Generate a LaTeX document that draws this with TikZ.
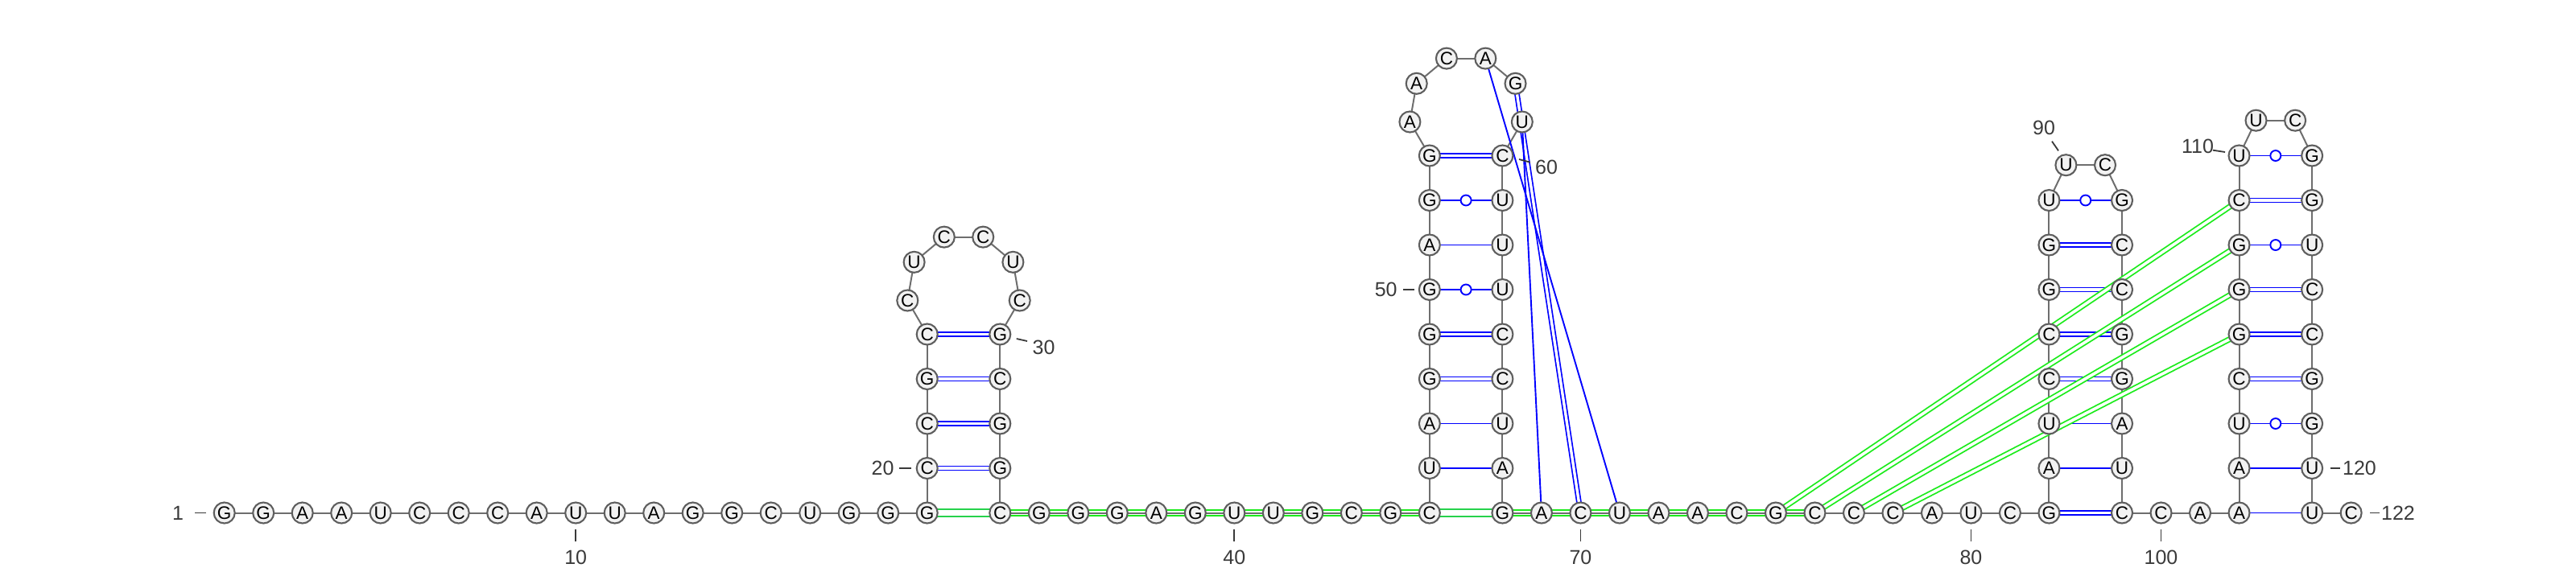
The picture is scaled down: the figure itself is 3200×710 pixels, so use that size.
\documentclass[tikz,border=0pt]{standalone}
\usepackage{fontspec}
\setmainfont{Liberation Sans}
\usetikzlibrary{calc}
\pgfdeclarelayer{bg}
\pgfsetlayers{bg,main}
\definecolor{bbgray}{HTML}{6E6E6E}
\definecolor{ntedge}{HTML}{5E5E5E}
\definecolor{ntfill}{HTML}{F2F2F2}
\definecolor{lblgray}{HTML}{3A3A3A}
\definecolor{pkgreen}{HTML}{1CEB1C}
\definecolor{hlgreen}{HTML}{1CEB1C}
\definecolor{prgreen}{HTML}{26D24C}
\definecolor{bpblue}{HTML}{0000FF}
\tikzset{
 nt/.style={circle, draw=ntedge, fill=ntfill, line width=2.1pt, minimum size=26pt, inner sep=0pt, font=\fontsize{22.5}{22.5}\selectfont},
 bb/.style={draw=bbgray, line width=2pt},
 bpS/.style={draw=bpblue, line width=1.9pt},
 bpD/.style={draw=bpblue, line width=1.7pt, double=white, double distance=3.4pt},
 wob/.style={circle, draw=bpblue, fill=white, line width=1.9pt, minimum size=13pt, inner sep=0pt},
 pkD/.style={draw=pkgreen, line width=1.8pt, double=white, double distance=3.6pt},
 hl/.style={draw=hlgreen, line width=2pt, double=white, double distance=5.4pt},
 prD/.style={draw=prgreen, line width=2.3pt, double=white, double distance=6.2pt},
 lbl/.style={text=lblgray, font=\fontsize{25}{25}\selectfont, inner sep=0pt},
 tk/.style={draw=lblgray, line width=1.8pt},
}
\begin{document}
\begin{tikzpicture}[x=1pt,y=-1pt]
\useasboundingbox (0,0) rectangle (3200,710);
% ---------- nucleotides ----------
\foreach \l [count=\i] in {G,G,A,A,U,C,C,C,A,U,U,A,G,G,C,U,G,G,G}
  \node[nt] (n\i) at ({278.7+(\i-1)*48.5},637.5) {\l};
\node[nt] (n20) at (1151.7,582) {C};
\node[nt] (n21) at (1151.7,526.5) {C};
\node[nt] (n22) at (1151.7,471) {G};
\node[nt] (n23) at (1151.7,415.5) {C};
\node[nt] (n24) at (1127.3,373.5) {C};
\node[nt] (n25) at (1135.6,325.8) {U};
\node[nt] (n26) at (1172.8,294.6) {C};
\node[nt] (n27) at (1221.2,294.6) {C};
\node[nt] (n28) at (1258.4,325.8) {U};
\node[nt] (n29) at (1266.7,373.5) {C};
\node[nt] (n30) at (1242.3,415.5) {G};
\node[nt] (n31) at (1242.3,471) {C};
\node[nt] (n32) at (1242.3,526.5) {G};
\node[nt] (n33) at (1242.3,582) {G};
\foreach \l [count=\i from 34] in {C,G,G,G,A,G,U,U,G,C,G,C}
  \node[nt] (n\i) at ({1242.3+(\i-34)*48.5},637.5) {\l};
\foreach \l [count=\i from 46] in {U,A,G,G,G,A,G,G}
  \node[nt] (n\i) at (1775.8,{637.5-(\i-45)*55.5}) {\l};
\node[nt] (n54) at (1751.4,151.5) {A};
\node[nt] (n55) at (1759.7,103.8) {A};
\node[nt] (n56) at (1796.9,72.6) {C};
\node[nt] (n57) at (1845.3,72.6) {A};
\node[nt] (n58) at (1882.5,103.8) {G};
\node[nt] (n59) at (1890.8,151.5) {U};
\foreach \l [count=\i from 60] in {C,U,U,U,C,C,U,A,G}
  \node[nt] (n\i) at (1866.4,{193.5+(\i-60)*55.5}) {\l};
\foreach \l [count=\i from 69] in {A,C,U,A,A,C,G,C,C,C,A,U,C,G}
  \node[nt] (n\i) at ({1866.4+(\i-68)*48.5},637.5) {\l};
\foreach \l [count=\i from 83] in {A,U,C,C,G,G,U}
  \node[nt] (n\i) at (2545.4,{637.5-(\i-82)*55.5}) {\l};
\node[nt] (n90) at (2566.4,205.2) {U};
\node[nt] (n91) at (2615.0,205.2) {C};
\foreach \l [count=\i from 92] in {G,C,C,G,G,A,U,C}
  \node[nt] (n\i) at (2636,{249+(\i-92)*55.5}) {\l};
\foreach \l [count=\i from 100] in {C,A,A}
  \node[nt] (n\i) at ({2636+(\i-99)*48.5},637.5) {\l};
\foreach \l [count=\i from 103] in {A,U,C,G,G,G,C,U}
  \node[nt] (n\i) at (2781.5,{637.5-(\i-102)*55.5}) {\l};
\node[nt] (n111) at (2802.5,149.7) {U};
\node[nt] (n112) at (2851.1,149.7) {C};
\foreach \l [count=\i from 113] in {G,G,U,C,C,G,G,U,U}
  \node[nt] (n\i) at (2872.1,{193.5+(\i-113)*55.5}) {\l};
\node[nt] (n122) at (2920.6,637.5) {C};
% ---------- connectors ----------
\begin{pgfonlayer}{bg}
\foreach \i in {34,...,44} {\pgfmathtruncatemacro\j{\i+1}\draw[hl] (n\i.center) -- (n\j.center);}
\foreach \i in {68,...,75} {\pgfmathtruncatemacro\j{\i+1}\draw[hl] (n\i.center) -- (n\j.center);}
\foreach \i in {1,...,121} {\pgfmathtruncatemacro\j{\i+1}\draw[bb] (n\i.center) -- (n\j.center);}
\draw[prD] (n19.center) -- (n34.center);
\draw[prD] (n45.center) -- (n68.center);
\foreach \a/\b in {20/33,21/32,22/31,23/30,48/65,49/64,53/60,82/99,85/96,86/95,87/94,88/93,105/118,106/117,107/116,109/114,58/70}
  \draw[bpD] (n\a.center) -- (n\b.center);
\foreach \a/\b in {46/67,47/66,51/62,83/98,84/97,102/121,103/120,57/71,59/69}
  \draw[bpS] (n\a.center) -- (n\b.center);
\foreach \a/\b in {50/63,52/61,89/92,104/119,108/115,110/113}
  \draw[bpS] (n\a.center) -- (n\b.center) node[midway,wob] {};
\foreach \a/\b in {75/109,76/108,77/107,78/106}
  \draw[pkD] (n\a.center) -- (n\b.center);
\end{pgfonlayer}
% ---------- numbering ----------
\node[lbl] (l1) at (221,637.5) {1};
\coordinate (t1a) at ($(n1)+(-36.7,0)$); \coordinate (t1b) at ($(n1)+(-23.2,0)$);
\draw[tk] (t1a) -- (t1b);
\foreach \p in {10,40,70,80,100} {
  \coordinate (t\p a) at ($(n\p)+(0,20.5)$);
  \coordinate (t\p b) at ($(n\p)+(0,35.5)$);
  \draw[tk] (t\p a) -- (t\p b);
  \node[lbl] (l\p) at ($(n\p)+(0,55)$) {\p};
}
\node[lbl] (l20) at (1096.5,582) {20};
\coordinate (t20a) at ($(n20)+(-35,0)$); \coordinate (t20b) at ($(n20)+(-20,0)$);
\draw[tk] (t20a) -- (t20b);
\node[lbl] (l30) at (1296.5,431.5) {30};
\coordinate (t30a) at ($(n30)+(20.4,5.5)$); \coordinate (t30b) at ($(n30)+(33.7,8.5)$);
\draw[tk] (t30a) -- (t30b);
\node[lbl] (l50) at (1721.7,360) {50};
\coordinate (t50a) at ($(n50)+(-33,0)$); \coordinate (t50b) at ($(n50)+(-19,0)$);
\draw[tk] (t50a) -- (t50b);
\node[lbl] (l60) at (1921,208.3) {60};
\coordinate (t60a) at ($(n60)+(20.6,4.5)$); \coordinate (t60b) at ($(n60)+(34.3,8.2)$);
\draw[tk] (t60a) -- (t60b);
\node[lbl] (l90) at (2539,158.7) {90};
\coordinate (t90a) at ($(n90)+(-17.4,-29.5)$); \coordinate (t90b) at ($(n90)+(-9.4,-17.9)$);
\draw[tk] (t90a) -- (t90b);
\node[lbl] (l110) at (2730,181.7) {110};
\coordinate (t110a) at ($(n110)+(-32.5,-6.8)$); \coordinate (t110b) at ($(n110)+(-17.5,-4.5)$);
\draw[tk] (t110a) -- (t110b);
\node[lbl] (l120) at (2931,582) {120};
\coordinate (t120a) at ($(n120)+(22.6,0)$); \coordinate (t120b) at ($(n120)+(35,0)$);
\draw[tk] (t120a) -- (t120b);
\node[lbl] (l122) at (2979,637.5) {122};
\coordinate (t122a) at ($(n122)+(23.4,0)$); \coordinate (t122b) at ($(n122)+(35.4,0)$);
\draw[tk] (t122a) -- (t122b);
\end{tikzpicture}
\end{document}
